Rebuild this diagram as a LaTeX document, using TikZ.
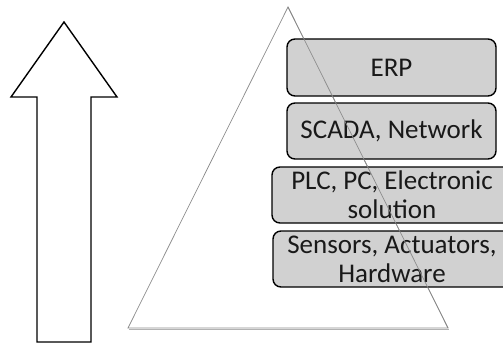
\documentclass[tikz,border=0pt]{standalone}
\usepackage{fontspec}
\setmainfont{Carlito}
\begin{document}
\begin{tikzpicture}[x=1pt,y=-1pt,
  layer/.style={draw=black,line width=1.4pt,rounded corners=8pt,fill=black!18,
    text=black!90,font=\fontsize{27}{29}\selectfont,align=center,inner sep=0pt},
  tri/.style={draw=black!45,line width=0.7pt}]
\useasboundingbox (0,0) rectangle (503,345);
\clip (0,0) rectangle (503,345);
% arrow
\draw[line width=1.4pt,fill=white,line join=miter]
  (64,22) -- (117,97) -- (91,97) -- (91,342) -- (37,342) -- (37,97) -- (11,97) -- cycle;
% triangle shadow
\draw[black!30,line width=1.5pt] (129,329.5) -- (449,329.5);
% triangle
\fill[white] (288,7) -- (448,328) -- (128,328) -- cycle;
\draw[tri] (288,7) -- (448,328) -- (128,328) -- cycle;
% layers
\node[layer,minimum width=209pt,minimum height=57pt] (erp) at (391.5,67.5) {ERP};
\node[layer,minimum width=209pt,minimum height=56pt] (scada) at (391.5,131) {SCADA, Network};
\node[layer,minimum width=240pt,minimum height=56pt] (plc) at (392,195) {PLC, PC, Electronic\\solution};
\node[layer,minimum width=238pt,minimum height=56pt] (sens) at (392,259) {Sensors, Actuators,\\Hardware};
% triangle edge seen through the boxes
\draw[tri] (288,7) -- (448,328);
\end{tikzpicture}
\end{document}
